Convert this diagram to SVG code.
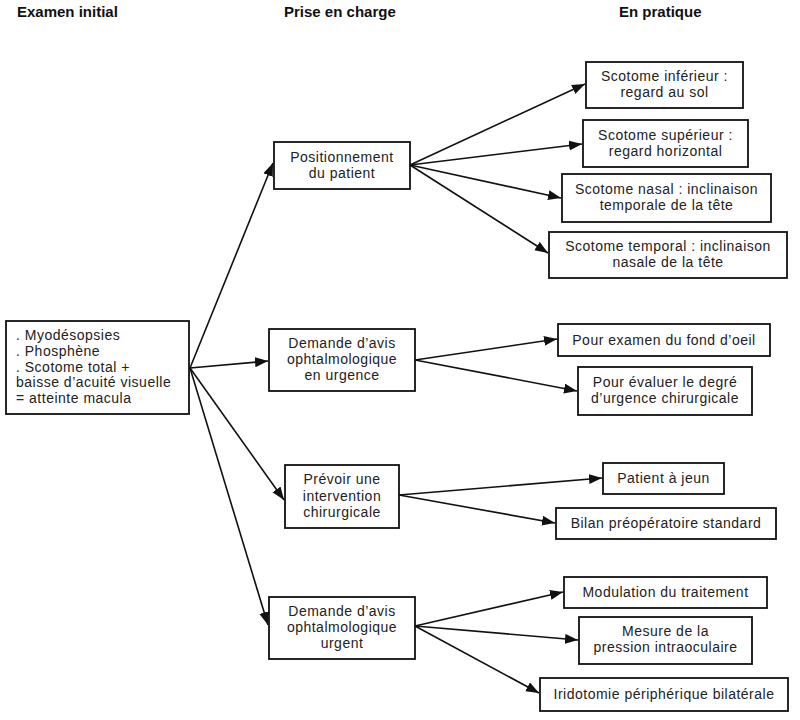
<svg xmlns="http://www.w3.org/2000/svg" width="800" height="720" viewBox="0 0 800 720">
  <style>
    .box { fill: #ffffff; stroke: #111111; stroke-width: 1.8; }
    .t { font-family: "Liberation Sans", Arial, sans-serif; font-size: 14px; letter-spacing: 0.5px; fill: #222222; }
    .c { text-anchor: middle; }
    .h { font-family: "Liberation Sans", Arial, sans-serif; font-size: 15px; font-weight: bold; fill: #111111; }
    .edge { stroke: #111111; stroke-width: 1.6; fill: none; marker-end: url(#arrow); }
  </style>
  <defs>
    <marker id="arrow" markerUnits="userSpaceOnUse" markerWidth="14" markerHeight="11" refX="13" refY="5" orient="auto">
      <path d="M0,0 L13,5 L0,10 z" fill="#111111"/>
    </marker>
  </defs>

  <rect width="800" height="720" fill="#ffffff"/>

  <!-- column headings -->
  <g id="headings">
    <text class="h" x="17" y="17">Examen initial</text>
    <text class="h" x="284" y="17">Prise en charge</text>
    <text class="h" x="619" y="17">En  pratique</text>
  </g>

  <!-- connectors -->
  <g id="connectors">
    <line class="edge" x1="190" y1="368" x2="273" y2="163"/>
    <line class="edge" x1="190" y1="368" x2="268" y2="361"/>
    <line class="edge" x1="190" y1="368" x2="284" y2="500"/>
    <line class="edge" x1="190" y1="368" x2="268" y2="625"/>

    <line class="edge" x1="410" y1="165" x2="585" y2="84"/>
    <line class="edge" x1="410" y1="165" x2="582" y2="144"/>
    <line class="edge" x1="410" y1="165" x2="561" y2="198"/>
    <line class="edge" x1="410" y1="165" x2="548" y2="253"/>

    <line class="edge" x1="415" y1="360" x2="557" y2="339"/>
    <line class="edge" x1="415" y1="360" x2="577" y2="391"/>

    <line class="edge" x1="399" y1="495" x2="602" y2="478"/>
    <line class="edge" x1="399" y1="495" x2="555" y2="523"/>

    <line class="edge" x1="415" y1="626" x2="563" y2="592"/>
    <line class="edge" x1="415" y1="626" x2="578" y2="640"/>
    <line class="edge" x1="415" y1="626" x2="539" y2="693"/>
  </g>

  <!-- initial examination -->
  <g id="examen">
    <rect class="box" x="6" y="321" width="183" height="93"/>
    <text class="t" y="340">
      <tspan x="16">. Myodésopsies</tspan>
      <tspan x="16" dy="15.8">. Phosphène</tspan>
      <tspan x="16" dy="15.8">. Scotome total +</tspan>
      <tspan x="16" dy="15.8">baisse d’acuité visuelle</tspan>
      <tspan x="16" dy="15.8">= atteinte macula</tspan>
    </text>
  </g>

  <!-- management -->
  <g id="positionnement">
    <rect class="box" x="274" y="142" width="136" height="47"/>
    <text class="t c" y="162"><tspan x="342">Positionnement</tspan><tspan x="342" dy="16">du patient</tspan></text>
  </g>
  <g id="avis-urgence">
    <rect class="box" x="269" y="329" width="146" height="62"/>
    <text class="t c" y="348"><tspan x="342">Demande d’avis</tspan><tspan x="342" dy="16">ophtalmologique</tspan><tspan x="342" dy="16">en urgence</tspan></text>
  </g>
  <g id="intervention">
    <rect class="box" x="285" y="465" width="114" height="63"/>
    <text class="t c" y="484"><tspan x="342">Prévoir une</tspan><tspan x="342" dy="16.5">intervention</tspan><tspan x="342" dy="16.5">chirurgicale</tspan></text>
  </g>
  <g id="avis-urgent">
    <rect class="box" x="269" y="597" width="146" height="62"/>
    <text class="t c" y="616"><tspan x="342">Demande d’avis</tspan><tspan x="342" dy="16">ophtalmologique</tspan><tspan x="342" dy="16">urgent</tspan></text>
  </g>

  <!-- in practice -->
  <g id="scotome-inferieur">
    <rect class="box" x="586" y="62" width="157" height="46"/>
    <text class="t c" y="81"><tspan x="664.5">Scotome inférieur :</tspan><tspan x="664.5" dy="16">regard au sol</tspan></text>
  </g>
  <g id="scotome-superieur">
    <rect class="box" x="583" y="120" width="165" height="47"/>
    <text class="t c" y="140"><tspan x="665.5">Scotome supérieur :</tspan><tspan x="665.5" dy="16">regard horizontal</tspan></text>
  </g>
  <g id="scotome-nasal">
    <rect class="box" x="562" y="174" width="209" height="48"/>
    <text class="t c" y="194"><tspan x="666.5">Scotome nasal : inclinaison</tspan><tspan x="666.5" dy="16">temporale de la tête</tspan></text>
  </g>
  <g id="scotome-temporal">
    <rect class="box" x="549" y="232" width="238" height="46"/>
    <text class="t c" y="251"><tspan x="668">Scotome temporal : inclinaison</tspan><tspan x="668" dy="16">nasale de la tête</tspan></text>
  </g>
  <g id="fond-oeil">
    <rect class="box" x="558" y="324" width="212" height="32"/>
    <text class="t c" x="664" y="345">Pour examen du fond d’oeil</text>
  </g>
  <g id="degre-urgence">
    <rect class="box" x="578" y="367" width="174" height="48"/>
    <text class="t c" y="387"><tspan x="665">Pour évaluer le degré</tspan><tspan x="665" dy="16">d’urgence chirurgicale</tspan></text>
  </g>
  <g id="a-jeun">
    <rect class="box" x="603" y="463" width="121" height="31"/>
    <text class="t c" x="663.5" y="483">Patient à jeun</text>
  </g>
  <g id="bilan">
    <rect class="box" x="556" y="508" width="220" height="31"/>
    <text class="t c" x="666" y="528">Bilan préopératoire standard</text>
  </g>
  <g id="modulation">
    <rect class="box" x="564" y="577" width="203" height="31"/>
    <text class="t c" x="665.5" y="597">Modulation du traitement</text>
  </g>
  <g id="pression">
    <rect class="box" x="579" y="617" width="173" height="47"/>
    <text class="t c" y="636"><tspan x="665.5">Mesure de la</tspan><tspan x="665.5" dy="16">pression intraoculaire</tspan></text>
  </g>
  <g id="iridotomie">
    <rect class="box" x="540" y="678" width="248" height="33"/>
    <text class="t c" x="664" y="699">Iridotomie périphérique bilatérale</text>
  </g>
</svg>
